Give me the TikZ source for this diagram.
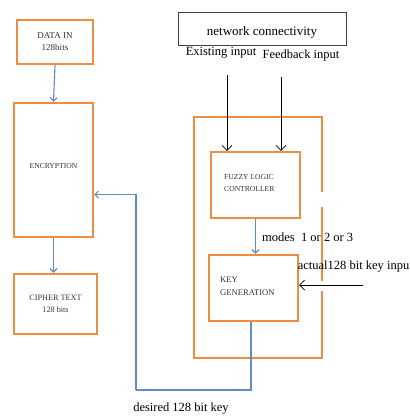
\documentclass[tikz,border=0pt]{standalone}
\usepackage{fontspec}
\setmainfont{Liberation Serif}
\usetikzlibrary{arrows.meta,calc}
\definecolor{boxorange}{RGB}{241,141,62}
\definecolor{lineblue}{RGB}{98,138,200}
\tikzset{
  obox/.style={draw=boxorange, line width=2.4pt, fill=white, inner sep=0pt},
  btext/.style={inner sep=0pt, align=center, text=black!80},
  barrow/.style={draw=lineblue, line width=1.1pt, -{Straight Barb[length=3.5pt,width=7pt]}},
  bline/.style={draw=lineblue, line width=1.1pt},
  karrow/.style={draw=black, line width=0.7pt, -{Straight Barb[length=5pt,width=10pt]}},
  lbl/.style={inner sep=0pt, font=\fontsize{12.5}{14}\selectfont},
}
\begin{document}
\begin{tikzpicture}[x=1pt,y=-1pt]
\useasboundingbox[fill=white] (0,0) rectangle (410,416);
% left column
\node[obox, minimum width=76pt, minimum height=44pt] (data) at (55,42) {};
\node[btext, font=\fontsize{9}{12}\selectfont] (datat) at (data) {DATA IN\\128bits};
\node[obox, minimum width=79pt, minimum height=134pt] (enc) at (53.5,170) {};
\node[btext, font=\fontsize{7.6}{9}\selectfont] (enct) at (53.5,166) {ENCRYPTION};
\node[obox, minimum width=83pt, minimum height=60pt] (cipher) at (55.5,304) {};
\node[btext, font=\fontsize{8.2}{12.5}\selectfont] (ciphert) at (cipher) {CIPHER TEXT\\128 bits};
\draw[barrow] (data.south) -- (enc.north);
\draw[barrow] (enc.south) -- (enc.south |- cipher.north);
% outer frame with gaps
\coordinate (otl) at (194,117);
\coordinate (otr) at (322,117);
\coordinate (obr) at (322,358);
\coordinate (obl) at (194,358);
\draw[draw=boxorange, line width=2.4pt] (322,192) -- (otr) -- (otl) -- (obl) -- (obr) -- (322,291);
\draw[draw=boxorange, line width=2.4pt] (322,207) -- (322,281);
% network connectivity
\node[draw=black!75, line width=0.7pt, minimum width=168pt, minimum height=33pt, inner sep=0pt] (net) at (262,28.5) {};
\node[inner sep=0pt, font=\fontsize{13}{15}\selectfont] (nett) at (262,32) {network connectivity};
\node[lbl] (exist) at (221,53) {Existing input};
\node[lbl] (feed) at (301,55) {Feedback input};
% inner boxes
\node[obox, minimum width=89pt, minimum height=66pt] (fuzzy) at (255.5,185) {};
\node[btext, align=left, anchor=west, font=\fontsize{7.6}{12}\selectfont] (fuzzyt) at (224,183) {FUZZY LOGIC\\CONTROLLER};
\node[obox, minimum width=89pt, minimum height=66pt] (keygen) at (253.5,288) {};
\node[btext, align=left, anchor=west, font=\fontsize{8.6}{13}\selectfont] (keygent) at (220,286.5) {KEY\\GENERATION};
% inputs
\coordinate (e1) at (227,75);
\coordinate (f1) at (281,77);
\draw[karrow] (e1) -- (e1 |- fuzzy.north);
\draw[karrow] (f1) -- (f1 |- fuzzy.north);
\draw[barrow] (fuzzy.south) -- (fuzzy.south |- keygen.north);
\node[lbl, anchor=west] (modes) at (262,237) {modes\ \ 1 or 2 or 3};
\node[lbl, anchor=east] (actual) at (409.5,267) {actual128 bit key inpu};
\coordinate (k1) at (363,285);
\draw[karrow] (k1) -- (k1 -| keygen.east);
% feedback
\coordinate (fb1) at (251,390);
\coordinate (fb2) at (136,390);
\coordinate (fbin) at ($(enc.north east)!0.68!(enc.south east)$);
\draw[bline] (keygen.south -| fb1) -- (fb1) -- (fb2);
\draw[barrow] (fb2) |- (fbin);
\node[lbl] (desired) at (181,409) {desired 128 bit key};
\end{tikzpicture}
\end{document}
